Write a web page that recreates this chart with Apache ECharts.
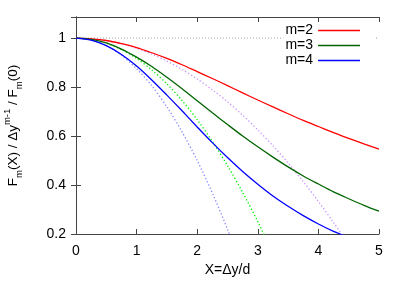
<!DOCTYPE html>
<html>
<head>
<meta charset="utf-8">
<script src="https://cdn.jsdelivr.net/npm/echarts@6/dist/echarts.min.js"></script>
<style>
html,body{margin:0;padding:0;background:#fff;}
#c{width:407px;height:284px;}
</style>
</head>
<body>
<div id="c"></div>
<script>
// X values shared by the curves
const xs = [0, 0.25, 0.5, 0.75, 1, 1.25, 1.5, 1.75, 2, 2.25, 2.5, 2.75, 3, 3.25, 3.5, 3.75, 4, 4.25, 4.5, 4.75, 5];
// solid curves
const m2 = [1, 0.997, 0.990, 0.977, 0.961, 0.940, 0.917, 0.891, 0.863, 0.835, 0.806, 0.776, 0.747, 0.719, 0.691, 0.664, 0.639, 0.614, 0.590, 0.568, 0.547];
const m3 = [1, 0.995, 0.980, 0.955, 0.922, 0.884, 0.840, 0.793, 0.744, 0.695, 0.647, 0.600, 0.556, 0.514, 0.474, 0.437, 0.404, 0.372, 0.344, 0.317, 0.293];
const m4 = [1, 0.992, 0.969, 0.933, 0.886, 0.829, 0.767, 0.703, 0.637, 0.573, 0.512, 0.455, 0.403, 0.355, 0.313, 0.275, 0.241, 0.211, 0.186, 0.163, 0.143];
// dotted small-X approximations
const a2 = [1, 0.997, 0.990, 0.977, 0.958, 0.935, 0.906, 0.872, 0.833, 0.789, 0.740, 0.685, 0.625, 0.560, 0.490, 0.414, 0.333, 0.247, 0.156, 0.060, -0.042];
const a3 = [1, 0.995, 0.979, 0.953, 0.917, 0.870, 0.813, 0.745, 0.667, 0.578, 0.479, 0.370, 0.250, 0.120, -0.021, null, null, null, null, null, null];
const a4 = [1, 0.992, 0.969, 0.930, 0.875, 0.805, 0.719, 0.617, 0.500, 0.367, 0.219, 0.055, -0.125, null, null, null, null, null, null, null, null];
// reference level
const unityX = [0, 5];
const unityY = [1, 1];
// axis ticks
const xTicks = {min: 0, max: 5, step: 1};
const yTicks = {min: 0.2, max: 1.086, step: 0.2};
const names = ['m=2', 'm=3', 'm=4'];

const pairs = (ys) => xs.map((x, i) => [x, ys[i]]).filter(p => p[1] !== null);

const chart = echarts.init(document.getElementById('c'), null, {renderer: 'canvas'});
const border = '#444';
const font = 'Liberation Sans, Arial, Helvetica, sans-serif';
const axisCommon = {
  type: 'value',
  splitLine: {show: false},
  axisLine: {show: true, lineStyle: {color: border, width: 1}},
  axisTick: {show: true, inside: true, length: 5, lineStyle: {color: border}},
};
function solid(name, ys, color) {
  return {name, type: 'line', data: pairs(ys), showSymbol: false, symbol: 'none',
    smooth: 0.3, lineStyle: {color, width: 1.3}, itemStyle: {color}, z: 3};
}
function dotted(ys, color) {
  return {type: 'line', data: pairs(ys), showSymbol: false, symbol: 'none',
    smooth: 0.3, lineStyle: {color, width: 1.3, type: [1.3, 2.2]}, z: 2};
}
chart.setOption({
  animation: false,
  backgroundColor: '#fff',
  grid: {left: 76, right: 28, top: 17, bottom: 50, containLabel: false, outerBoundsMode: 'none'},
  legend: {
    data: names, orient: 'vertical', right: 32, top: 22, align: 'right',
    icon: 'rect', itemWidth: 42, itemHeight: 1.4, itemGap: 0,
    backgroundColor: '#fff', padding: [1, 15, 1, 2],
    textStyle: {fontFamily: font, fontSize: 14, color: '#000', lineHeight: 15, padding: [0, 0, 0, 0]}
  },
  xAxis: [
    Object.assign({}, axisCommon, {
      min: xTicks.min, max: xTicks.max, interval: xTicks.step, position: 'bottom',
      axisLabel: {fontFamily: font, fontSize: 14, color: '#000', margin: 10},
      name: 'X=\u0394y/d', nameLocation: 'middle', nameGap: 29,
      nameTextStyle: {fontFamily: font, fontSize: 14, color: '#000'}
    }),
    Object.assign({}, axisCommon, {
      min: xTicks.min, max: xTicks.max, interval: xTicks.step, position: 'top',
      axisLabel: {show: false}
    })
  ],
  yAxis: [
    Object.assign({}, axisCommon, {
      min: yTicks.min, max: yTicks.max, interval: yTicks.step, position: 'left',
      axisLabel: {fontFamily: font, fontSize: 14, color: '#000', margin: 10, showMaxLabel: false,
        formatter: v => String(Math.round(v * 10) / 10)},
      name: '{a|F}{s|m}{a|(X) / \u0394y}{p|m-1}{a| / F}{s|m}{a|(0)}',
      nameLocation: 'middle', nameRotate: 90, nameGap: 52,
      nameTextStyle: {
        rich: {
          a: {fontFamily: font, fontSize: 13.5, color: '#000', lineHeight: 22, verticalAlign: 'middle'},
          s: {fontFamily: font, fontSize: 9.5, color: '#000', lineHeight: 10, verticalAlign: 'bottom'},
          p: {fontFamily: font, fontSize: 9.5, color: '#000', lineHeight: 10, verticalAlign: 'top'}
        }
      }
    }),
    Object.assign({}, axisCommon, {
      min: yTicks.min, max: yTicks.max, interval: yTicks.step, position: 'right',
      axisLabel: {show: false}
    })
  ],
  series: [
    {type: 'line', data: unityX.map((x, i) => [x, unityY[i]]), showSymbol: false, symbol: 'none',
      lineStyle: {color: '#a0a0a0', width: 1, type: [1, 2]}, z: 1, silent: true},
    dotted(a2, '#c890ff'),
    dotted(a3, '#00ee00'),
    dotted(a4, '#8888ff'),
    solid(names[0], m2, '#ff0000'),
    solid(names[1], m3, '#006400'),
    solid(names[2], m4, '#0000ff')
  ]
});
</script>
</body>
</html>
